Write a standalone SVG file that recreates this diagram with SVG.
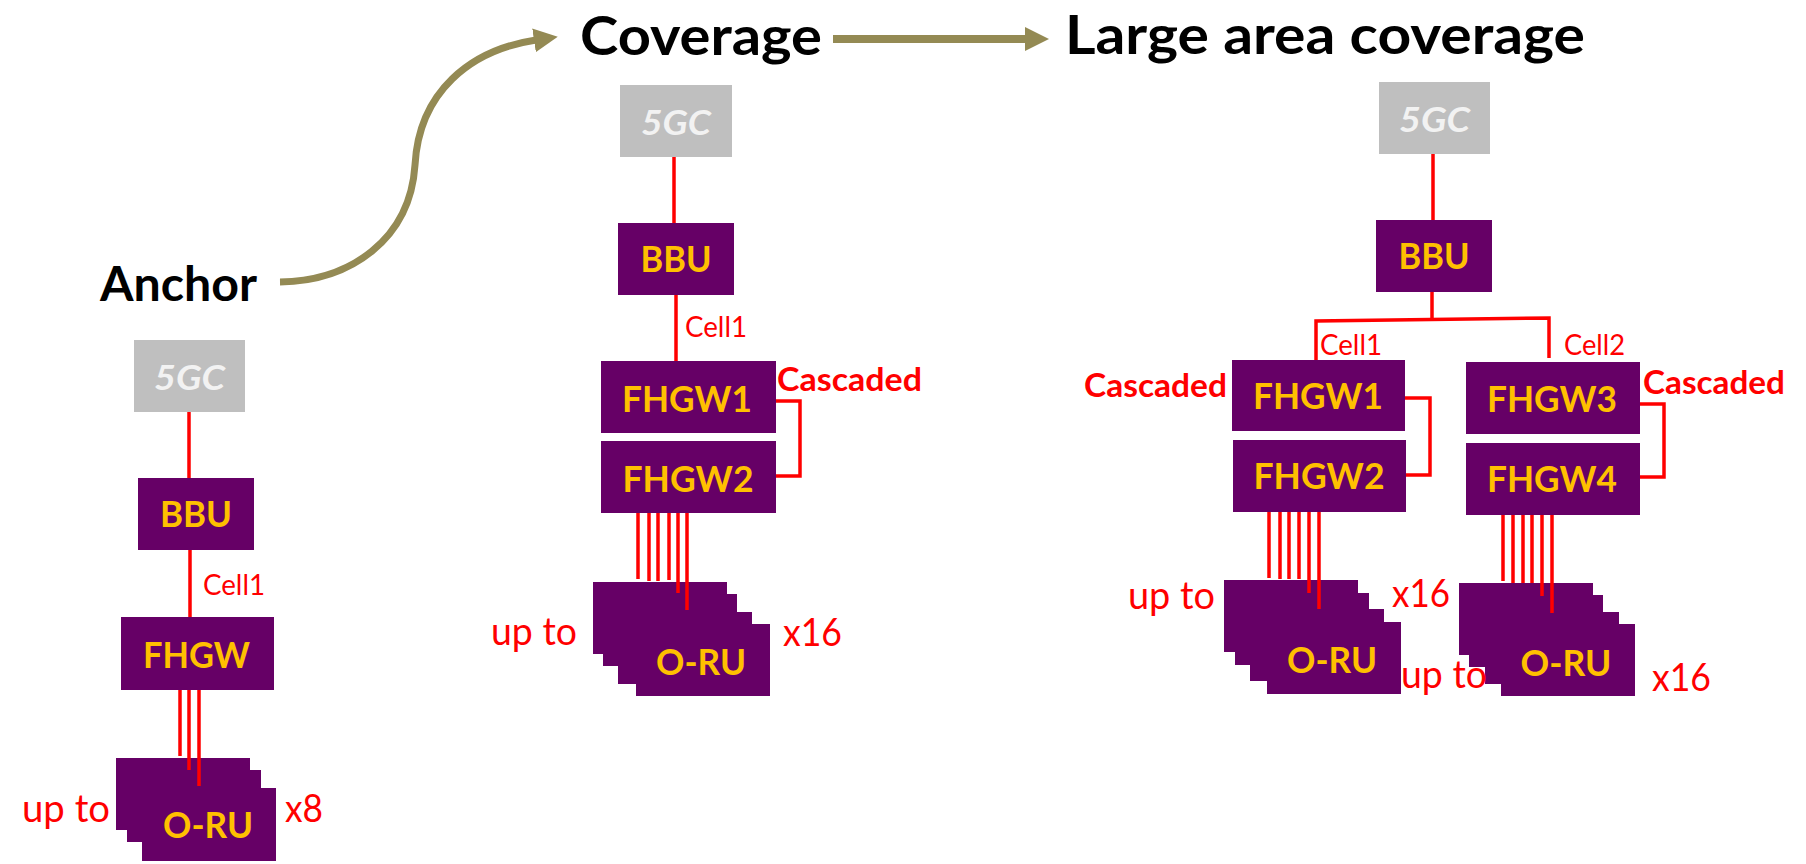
<svg xmlns="http://www.w3.org/2000/svg" width="1806" height="864" viewBox="0 0 1806 864">
  <style>
    .box{fill:#660066}
    .core{fill:#BFBFBF}
    .nt{font-family:Lato,"Open Sans","Liberation Sans",sans-serif;font-weight:700;fill:#FFC000;text-anchor:middle;font-size:37px}
    .ct{font-family:Lato,"Open Sans","Liberation Sans",sans-serif;font-weight:700;font-style:italic;fill:#F2F2F2;text-anchor:middle;font-size:34px}
    .link{stroke:#FF0000;stroke-width:3.5;fill:none}
    .lbl{font-family:Lato,"Open Sans","Liberation Sans",sans-serif;fill:#FF0000;font-size:38px}
    .cell{font-family:Lato,"Open Sans","Liberation Sans",sans-serif;fill:#FF0000;font-size:28px}
    .casc{font-family:Lato,"Open Sans","Liberation Sans",sans-serif;fill:#FF0000;font-weight:700;font-size:32px}
    .title{font-family:Lato,"Open Sans","Liberation Sans",sans-serif;fill:#000000;font-weight:700}
    .flow{stroke:#948A54;fill:none}
  </style>
  <defs>
    <marker id="head" markerUnits="userSpaceOnUse" markerWidth="24" markerHeight="24" viewBox="0 0 24 24" refX="2" refY="12" orient="auto">
      <path d="M0,0 L24,12 L0,24 z" fill="#948A54"/>
    </marker>
  </defs>

  <!-- stage titles and progression arrows -->
  <g id="titles">
    <text class="title" x="100" y="301" font-size="47" textLength="157" lengthAdjust="spacingAndGlyphs">Anchor</text>
    <text class="title" x="580" y="55" font-size="54" textLength="242" lengthAdjust="spacingAndGlyphs">Coverage</text>
    <text class="title" x="1065" y="54" font-size="54" textLength="520" lengthAdjust="spacingAndGlyphs">Large area coverage</text>
  </g>
  <g id="progress">
    <path class="flow" stroke-width="7" d="M280,282 C350,281 410,240 415,165 C419,92 470,50 536,40" marker-end="url(#head)"/>
    <path class="flow" stroke-width="8" d="M833,39 H1027" marker-end="url(#head)"/>
  </g>

  <!-- ===== Anchor ===== -->
  <g id="a-5gc"><rect class="core" x="134" y="340" width="111" height="72"/><text class="ct" x="189.5" y="390" textLength="71" lengthAdjust="spacingAndGlyphs">5GC</text></g>
  <g id="a-bbu"><rect class="box" x="138" y="478" width="116" height="72"/><text class="nt" x="196" y="527" textLength="72" lengthAdjust="spacingAndGlyphs">BBU</text></g>
  <g id="a-fhgw"><rect class="box" x="121" y="617" width="153" height="73"/><text class="nt" x="196.5" y="668" textLength="107" lengthAdjust="spacingAndGlyphs">FHGW</text></g>
  <g id="a-oru">
    <rect class="box" x="116" y="758" width="134" height="72"/>
    <rect class="box" x="127" y="770" width="134" height="72"/>
    <rect class="box" x="142" y="788" width="134" height="73"/>
    <text class="nt" x="208" y="838" textLength="90" lengthAdjust="spacingAndGlyphs">O-RU</text>
  </g>

  <!-- ===== Coverage ===== -->
  <g id="c-5gc"><rect class="core" x="620" y="85" width="112" height="72"/><text class="ct" x="676" y="135" textLength="70" lengthAdjust="spacingAndGlyphs">5GC</text></g>
  <g id="c-bbu"><rect class="box" x="618" y="223" width="116" height="72"/><text class="nt" x="676" y="272" textLength="71" lengthAdjust="spacingAndGlyphs">BBU</text></g>
  <g id="c-fhgw1"><rect class="box" x="601" y="361" width="175" height="72"/><text class="nt" x="687" y="412" textLength="130" lengthAdjust="spacingAndGlyphs">FHGW1</text></g>
  <g id="c-fhgw2"><rect class="box" x="601" y="441" width="175" height="72"/><text class="nt" x="688" y="492" textLength="131" lengthAdjust="spacingAndGlyphs">FHGW2</text></g>
  <g id="c-oru">
    <rect class="box" x="593" y="582" width="134" height="72"/>
    <rect class="box" x="603" y="594" width="134" height="72"/>
    <rect class="box" x="618" y="612" width="134" height="72"/>
    <rect class="box" x="636" y="624" width="134" height="72"/>
    <text class="nt" x="701" y="675" textLength="90" lengthAdjust="spacingAndGlyphs">O-RU</text>
  </g>

  <!-- ===== Large area coverage ===== -->
  <g id="l-5gc"><rect class="core" x="1379" y="82" width="111" height="72"/><text class="ct" x="1434.5" y="132" textLength="71" lengthAdjust="spacingAndGlyphs">5GC</text></g>
  <g id="l-bbu"><rect class="box" x="1376" y="220" width="116" height="72"/><text class="nt" x="1434" y="269" textLength="71" lengthAdjust="spacingAndGlyphs">BBU</text></g>
  <g id="l-fhgw1"><rect class="box" x="1232" y="360" width="173" height="71"/><text class="nt" x="1318" y="409" textLength="130" lengthAdjust="spacingAndGlyphs">FHGW1</text></g>
  <g id="l-fhgw2"><rect class="box" x="1233" y="440" width="173" height="72"/><text class="nt" x="1319" y="489" textLength="131" lengthAdjust="spacingAndGlyphs">FHGW2</text></g>
  <g id="l-fhgw3"><rect class="box" x="1466" y="362" width="174" height="72"/><text class="nt" x="1552" y="412" textLength="130" lengthAdjust="spacingAndGlyphs">FHGW3</text></g>
  <g id="l-fhgw4"><rect class="box" x="1466" y="443" width="174" height="72"/><text class="nt" x="1552" y="492" textLength="130" lengthAdjust="spacingAndGlyphs">FHGW4</text></g>
  <g id="l-oru1">
    <rect class="box" x="1224" y="580" width="134" height="72"/>
    <rect class="box" x="1235" y="593" width="134" height="72"/>
    <rect class="box" x="1250" y="609" width="134" height="72"/>
    <rect class="box" x="1267" y="622" width="134" height="72"/>
    <text class="nt" x="1332" y="673" textLength="90" lengthAdjust="spacingAndGlyphs">O-RU</text>
  </g>
  <g id="l-oru2">
    <rect class="box" x="1459" y="583" width="134" height="72"/>
    <rect class="box" x="1469" y="595" width="134" height="72"/>
    <rect class="box" x="1485" y="612" width="134" height="72"/>
    <rect class="box" x="1501" y="624" width="134" height="72"/>
    <text class="nt" x="1566" y="676" textLength="91" lengthAdjust="spacingAndGlyphs">O-RU</text>
  </g>

  <!-- fronthaul links -->
  <g id="connectors">
    <!-- anchor -->
    <path class="link" d="M189,412 V478 M190,550 V617"/>
    <path class="link" d="M180,690 V756 M189,690 V770 M199,690 V786"/>
    <!-- coverage -->
    <path class="link" d="M674,157 V223 M676,295 V361"/>
    <path class="link" d="M776,401 H800 V476 H776"/>
    <path class="link" d="M638,513 V579 M649,513 V581 M658,513 V581 M669,513 V580 M678,513 V593 M687,513 V610"/>
    <!-- large area -->
    <path class="link" d="M1433,154 V220 M1432,292 V320"/>
    <path class="link" d="M1316,360 V321 L1549,318 V358"/>
    <path class="link" d="M1405,398 H1430 V475 H1406"/>
    <path class="link" d="M1640,404 H1664 V477 H1640"/>
    <path class="link" d="M1269,512 V578 M1280,512 V579 M1289,512 V579 M1299,512 V579 M1309,512 V593 M1319,512 V609"/>
    <path class="link" d="M1503,515 V581 M1513,515 V583 M1523,515 V583 M1532,515 V583 M1542,515 V596 M1552,515 V613"/>
  </g>

  <!-- link and fan-out labels -->
  <g id="labels">
    <text class="cell" x="203" y="595" textLength="62" lengthAdjust="spacingAndGlyphs">Cell1</text>
    <text class="lbl" x="22" y="822" textLength="88" lengthAdjust="spacingAndGlyphs">up to</text>
    <text class="lbl" x="285" y="822" textLength="38" lengthAdjust="spacingAndGlyphs">x8</text>

    <text class="cell" x="685" y="337" textLength="62" lengthAdjust="spacingAndGlyphs">Cell1</text>
    <text class="casc" x="777" y="391" textLength="145" lengthAdjust="spacingAndGlyphs">Cascaded</text>
    <text class="lbl" x="491" y="645" textLength="86" lengthAdjust="spacingAndGlyphs">up to</text>
    <text class="lbl" x="783" y="646" textLength="59" lengthAdjust="spacingAndGlyphs">x16</text>

    <text class="cell" x="1320" y="355" textLength="62" lengthAdjust="spacingAndGlyphs">Cell1</text>
    <text class="cell" x="1564" y="355" textLength="61" lengthAdjust="spacingAndGlyphs">Cell2</text>
    <text class="casc" x="1084" y="397" textLength="143" lengthAdjust="spacingAndGlyphs">Cascaded</text>
    <text class="casc" x="1643" y="394" textLength="142" lengthAdjust="spacingAndGlyphs">Cascaded</text>
    <text class="lbl" x="1128" y="609" textLength="87" lengthAdjust="spacingAndGlyphs">up to</text>
    <text class="lbl" x="1392" y="607" textLength="58" lengthAdjust="spacingAndGlyphs">x16</text>
    <text class="lbl" x="1401" y="688" textLength="86" lengthAdjust="spacingAndGlyphs">up to</text>
    <text class="lbl" x="1652" y="691" textLength="59" lengthAdjust="spacingAndGlyphs">x16</text>
  </g>
</svg>
